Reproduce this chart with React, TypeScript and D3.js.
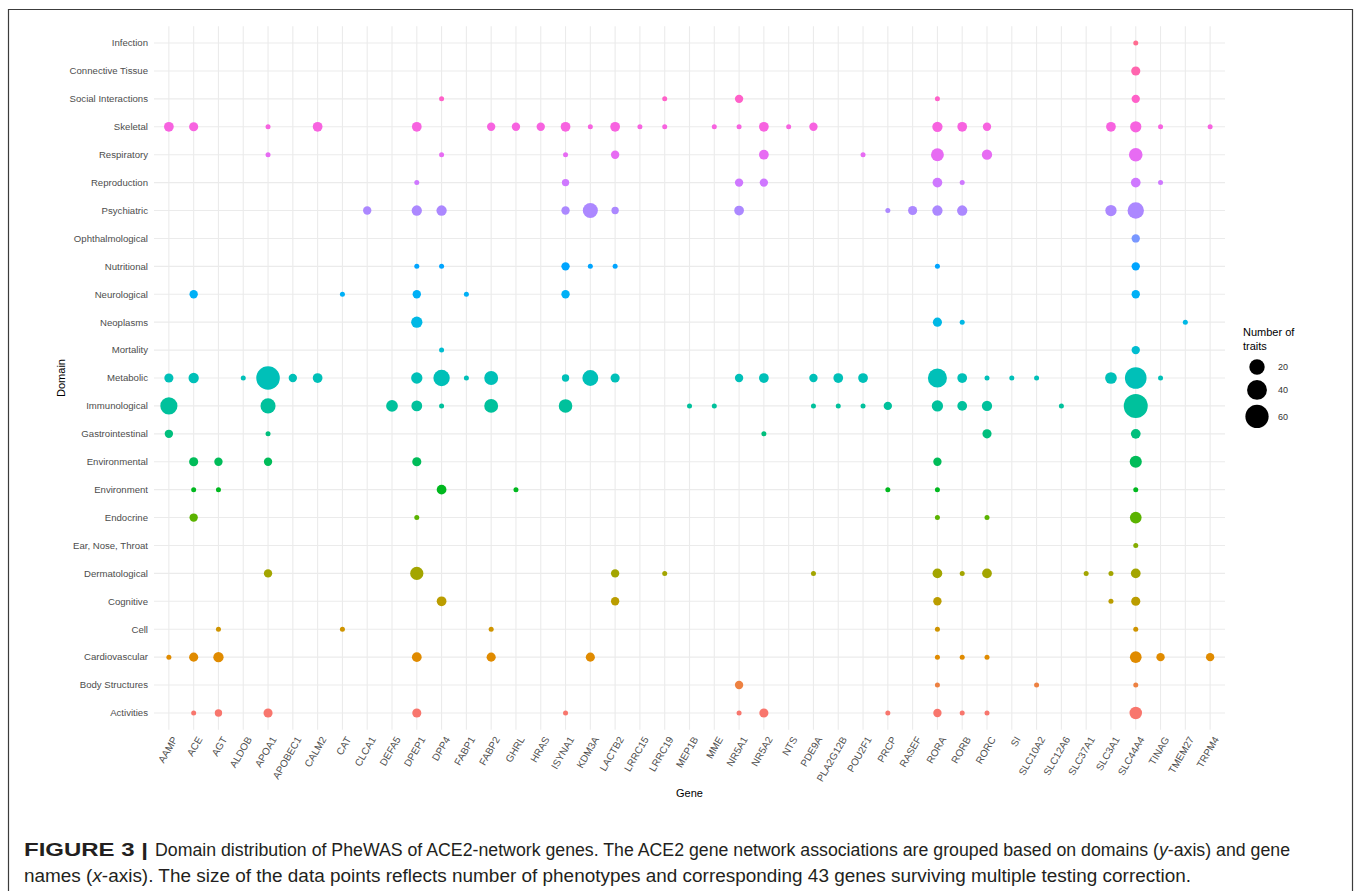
import React from 'react';
import * as d3 from 'd3';

// genes on the x axis
const genes = [
  'AAMP', 'ACE', 'AGT', 'ALDOB', 'APOA1', 'APOBEC1', 'CALM2', 'CAT', 'CLCA1', 'DEFA5',
  'DPEP1', 'DPP4', 'FABP1', 'FABP2', 'GHRL', 'HRAS', 'ISYNA1', 'KDM3A', 'LACTB2', 'LRRC15',
  'LRRC19', 'MEP1B', 'MME', 'NR5A1', 'NR5A2', 'NTS', 'PDE9A', 'PLA2G12B', 'POU2F1', 'PRCP',
  'RASEF', 'RORA', 'RORB', 'RORC', 'SI', 'SLC10A2', 'SLC12A6', 'SLC37A1', 'SLC3A1', 'SLC44A4',
  'TINAG', 'TMEM27', 'TRPM4',
];

// domains, bottom to top (factor order, also colour order)
const domains = [
  'Activities', 'Body Structures', 'Cardiovascular', 'Cell', 'Cognitive', 'Dermatological',
  'Ear, Nose, Throat', 'Endocrine', 'Environment', 'Environmental', 'Gastrointestinal',
  'Immunological', 'Metabolic', 'Mortality', 'Neoplasms', 'Neurological', 'Nutritional',
  'Ophthalmological', 'Psychiatric', 'Reproduction', 'Respiratory', 'Skeletal',
  'Social Interactions', 'Connective Tissue', 'Infection',
];

// number of traits per gene, one list per domain
const activities = [['ACE', 1], ['AGT', 2], ['APOA1', 4], ['DPEP1', 4], ['ISYNA1', 1], ['NR5A1', 1], ['NR5A2', 4], ['PRCP', 1], ['RORA', 3], ['RORB', 1], ['RORC', 1], ['SLC44A4', 11]];
const bodyStructures = [['NR5A1', 3], ['RORA', 1], ['SLC10A2', 1], ['SLC44A4', 1]];
const cardiovascular = [['AAMP', 1], ['ACE', 4], ['AGT', 6], ['DPEP1', 5], ['FABP2', 4], ['KDM3A', 4], ['RORA', 1], ['RORB', 1], ['RORC', 1], ['SLC44A4', 9], ['TINAG', 3], ['TRPM4', 3]];
const cell = [['AGT', 1], ['CAT', 1], ['FABP2', 1], ['RORA', 1], ['SLC44A4', 1]];
const cognitive = [['DPP4', 5], ['LACTB2', 3], ['RORA', 3], ['SLC3A1', 1], ['SLC44A4', 4]];
const dermatological = [['APOA1', 3], ['DPEP1', 13], ['LACTB2', 3], ['LRRC19', 1], ['PDE9A', 1], ['RORA', 5], ['RORB', 1], ['RORC', 5], ['SLC37A1', 1], ['SLC3A1', 1], ['SLC44A4', 5]];
const earNoseThroat = [['SLC44A4', 1]];
const endocrine = [['ACE', 3], ['DPEP1', 1], ['RORA', 1], ['RORC', 1], ['SLC44A4', 9]];
const environment = [['ACE', 1], ['AGT', 1], ['DPP4', 5], ['GHRL', 1], ['PRCP', 1], ['RORA', 1], ['SLC44A4', 1]];
const environmental = [['ACE', 4], ['AGT', 3], ['APOA1', 3], ['DPEP1', 4], ['RORA', 3], ['SLC44A4', 10]];
const gastrointestinal = [['AAMP', 3], ['APOA1', 1], ['NR5A2', 1], ['RORC', 4], ['SLC44A4', 5]];
const immunological = [['AAMP', 27], ['APOA1', 19], ['DEFA5', 9], ['DPEP1', 7], ['DPP4', 1], ['FABP2', 15], ['ISYNA1', 14], ['MEP1B', 1], ['MME', 1], ['PDE9A', 1], ['PLA2G12B', 1], ['POU2F1', 1], ['PRCP', 3], ['RORA', 8], ['RORB', 5], ['RORC', 6], ['SLC12A6', 1], ['SLC44A4', 65]];
const metabolic = [['AAMP', 4], ['ACE', 6], ['ALDOB', 1], ['APOA1', 62], ['APOBEC1', 3], ['CALM2', 5], ['DPEP1', 8], ['DPP4', 24], ['FABP1', 1], ['FABP2', 15], ['ISYNA1', 2], ['KDM3A', 22], ['LACTB2', 4], ['NR5A1', 3], ['NR5A2', 5], ['PDE9A', 3], ['PLA2G12B', 5], ['POU2F1', 5], ['RORA', 36], ['RORB', 5], ['RORC', 1], ['SI', 1], ['SLC10A2', 1], ['SLC3A1', 9], ['SLC44A4', 50], ['TINAG', 1]];
const mortality = [['DPP4', 1], ['SLC44A4', 3]];
const neoplasms = [['DPEP1', 8], ['RORA', 4], ['RORB', 1], ['TMEM27', 1]];
const neurological = [['ACE', 3], ['CAT', 1], ['DPEP1', 3], ['FABP1', 1], ['ISYNA1', 3], ['SLC44A4', 3]];
const nutritional = [['DPEP1', 1], ['DPP4', 1], ['ISYNA1', 3], ['KDM3A', 1], ['LACTB2', 1], ['RORA', 1], ['SLC44A4', 3]];
const ophthalmological = [['SLC44A4', 3]];
const psychiatric = [['CLCA1', 3], ['DPEP1', 6], ['DPP4', 6], ['ISYNA1', 3], ['KDM3A', 19], ['LACTB2', 2], ['NR5A1', 5], ['PRCP', 1], ['RASEF', 4], ['RORA', 6], ['RORB', 6], ['SLC3A1', 8], ['SLC44A4', 24]];
const reproduction = [['DPEP1', 1], ['ISYNA1', 2], ['NR5A1', 3], ['NR5A2', 3], ['RORA', 5], ['RORB', 1], ['SLC44A4', 5], ['TINAG', 1]];
const respiratory = [['APOA1', 1], ['DPP4', 1], ['ISYNA1', 1], ['LACTB2', 3], ['NR5A2', 5], ['POU2F1', 1], ['RORA', 12], ['RORC', 6], ['SLC44A4', 14]];
const skeletal = [['AAMP', 5], ['ACE', 4], ['APOA1', 1], ['CALM2', 5], ['DPEP1', 5], ['FABP2', 3], ['GHRL', 3], ['HRAS', 3], ['ISYNA1', 5], ['KDM3A', 1], ['LACTB2', 5], ['LRRC15', 1], ['LRRC19', 1], ['MME', 1], ['NR5A1', 1], ['NR5A2', 5], ['NTS', 1], ['PDE9A', 3], ['RORA', 6], ['RORB', 5], ['RORC', 3], ['SLC3A1', 5], ['SLC44A4', 8], ['TINAG', 1], ['TRPM4', 1]];
const socialInteractions = [['DPP4', 1], ['LRRC19', 1], ['NR5A1', 3], ['RORA', 1], ['SLC44A4', 3]];
const connectiveTissue = [['SLC44A4', 4]];
const infection = [['SLC44A4', 1]];

const rows = [
  activities, bodyStructures, cardiovascular, cell, cognitive, dermatological, earNoseThroat,
  endocrine, environment, environmental, gastrointestinal, immunological, metabolic, mortality,
  neoplasms, neurological, nutritional, ophthalmological, psychiatric, reproduction, respiratory,
  skeletal, socialInteractions, connectiveTissue, infection,
];

const legendBreaks = [20, 40, 60];

const captionLabel = 'FIGURE 3 |';
const captionLine1 = 'Domain distribution of PheWAS of ACE2-network genes. The ACE2 gene network associations are grouped based on domains (';
const captionLine2 = 'names (';
const captionLine2b = '-axis). The size of the data points reflects number of phenotypes and corresponding 43 genes surviving multiple testing correction.';

// R's hcl() (polar CIE-Luv) -> hex, so the hues match ggplot's default palette
function hclLuv(h: number, c: number, l: number) {
  const hr = (h * Math.PI) / 180;
  const U = c * Math.cos(hr);
  const V = c * Math.sin(hr);
  const Xn = 95.047, Yn = 100, Zn = 108.883;
  const Y = l > 8 ? Yn * Math.pow((l + 16) / 116, 3) : (Yn * l) / 903.3;
  const t = Xn + 15 * Yn + 3 * Zn;
  const up = U / (13 * l) + (4 * Xn) / t;
  const vp = V / (13 * l) + (9 * Yn) / t;
  const X = (9 * Y * up) / (4 * vp);
  const Z = -X / 3 - 5 * Y + (3 * Y) / vp;
  const x = X / 100, y = Y / 100, z = Z / 100;
  const lin = [
    3.2404542 * x - 1.5371385 * y - 0.4985314 * z,
    -0.969266 * x + 1.8760108 * y + 0.041556 * z,
    0.0556434 * x - 0.2040259 * y + 1.0572252 * z,
  ];
  const g = lin.map((v) => {
    const s = v <= 0.0031308 ? 12.92 * v : 1.055 * Math.pow(v, 1 / 2.4) - 0.055;
    return Math.round(Math.max(0, Math.min(1, s)) * 255);
  });
  return d3.rgb(g[0], g[1], g[2]).formatHex();
}

export default function App() {
  const x = d3.scalePoint<string>().domain(genes).range([154, 1225]).padding(0.6);
  const y = d3.scalePoint<string>().domain(domains).range([729.7, 26.3]).padding(0.6);
  const color = d3
    .scaleOrdinal<string, string>()
    .domain(domains)
    .range(domains.map((_, i) => hclLuv(15 + (i * 360) / domains.length, 100, 65)));

  const points = rows.flatMap((row, i) =>
    row.map(([gene, n]) => ({ domain: domains[i], gene: gene as string, n: n as number }))
  );
  const nMin = d3.min(points, (d) => d.n) as number;
  const nMax = d3.max(points, (d) => d.n) as number;
  // ggplot scale_size: radius grows with sqrt of the rescaled value
  const norm = d3.scaleLinear().domain([nMin, nMax]).range([0, 1]);
  const radius = d3.scaleLinear().domain([0, 1]).range([2.5, 12]);
  const r = (v: number) => radius(Math.sqrt(Math.max(0, norm(v))));

  const [x0, x1] = x.range();
  const [yb, yt] = y.range();

  // legend key rows
  let keyY = 356.5;
  const keys = legendBreaks.map((b) => {
    const h = Math.max(21, 2 * r(b) + 5);
    const cy = keyY + h / 2;
    keyY += h;
    return { b, cy };
  });

  const font = "'Liberation Sans', Arial, Helvetica, sans-serif";

  return (
    <svg
      width={1360}
      height={891}
      style={{ position: 'absolute', left: 0, top: 0, fontFamily: font }}
    >
      <rect width={1360} height={891} fill="#fff" />
      <path d="M8.5,891 V9.5 H1352.5 V891" fill="none" stroke="#3c3c3c" strokeWidth={1.2} />

      <g className="grid" stroke="#ebebeb" strokeWidth={1.1}>
        {domains.map((d) => (
          <line key={d} x1={x0} x2={x1} y1={y(d)} y2={y(d)} />
        ))}
        {genes.map((g) => (
          <line key={g} x1={x(g)} x2={x(g)} y1={yt} y2={yb} />
        ))}
      </g>

      <g className="points">
        {points.map((p) => (
          <circle
            key={p.domain + p.gene}
            cx={x(p.gene)}
            cy={y(p.domain)}
            r={r(p.n)}
            fill={color(p.domain)}
          />
        ))}
      </g>

      <g className="y-axis" fontSize={9.6} fill="#4d4d4d" textAnchor="end">
        {domains.map((d) => (
          <text key={d} x={148} y={y(d)} dy="0.35em">
            {d}
          </text>
        ))}
      </g>

      <g className="x-axis" fontSize={10} fill="#4d4d4d" textAnchor="end">
        {genes.map((g) => (
          <text key={g} transform={`translate(${(x(g) as number) + 3},${yb + 6}) rotate(-60)`} dy="0.7em">
            {g}
          </text>
        ))}
      </g>

      <text x={(x0 + x1) / 2} y={797} fontSize={11} textAnchor="middle" fill="#000">
        Gene
      </text>
      <text transform={`translate(65,${(yt + yb) / 2}) rotate(-90)`} fontSize={11} textAnchor="middle" fill="#000">
        Domain
      </text>

      <g className="legend">
        <text x={1243} y={336} fontSize={11} fill="#000">
          Number of
        </text>
        <text x={1243} y={349.5} fontSize={11} fill="#000">
          traits
        </text>
        {keys.map((k) => (
          <g key={k.b}>
            <circle cx={1257} cy={k.cy} r={r(k.b)} fill="#000" />
            <text x={1278} y={k.cy} dy="0.35em" fontSize={9} fill="#333">
              {k.b}
            </text>
          </g>
        ))}
      </g>

      <g className="caption" fontSize={17.5} fill="#231f20" fontFamily="'Liberation Sans Narrow', 'Liberation Sans', Arial, sans-serif">
        <text x={24} y={856} fontWeight="bold" textLength={124} lengthAdjust="spacingAndGlyphs">
          {captionLabel}
        </text>
        <text x={155} y={856} textLength={1135} lengthAdjust="spacingAndGlyphs">
          {captionLine1}
          <tspan fontStyle="italic">y</tspan>
          -axis) and gene
        </text>
        <text x={24} y={882} textLength={1167} lengthAdjust="spacingAndGlyphs">
          {captionLine2}
          <tspan fontStyle="italic">x</tspan>
          {captionLine2b}
        </text>
      </g>
    </svg>
  );
}
